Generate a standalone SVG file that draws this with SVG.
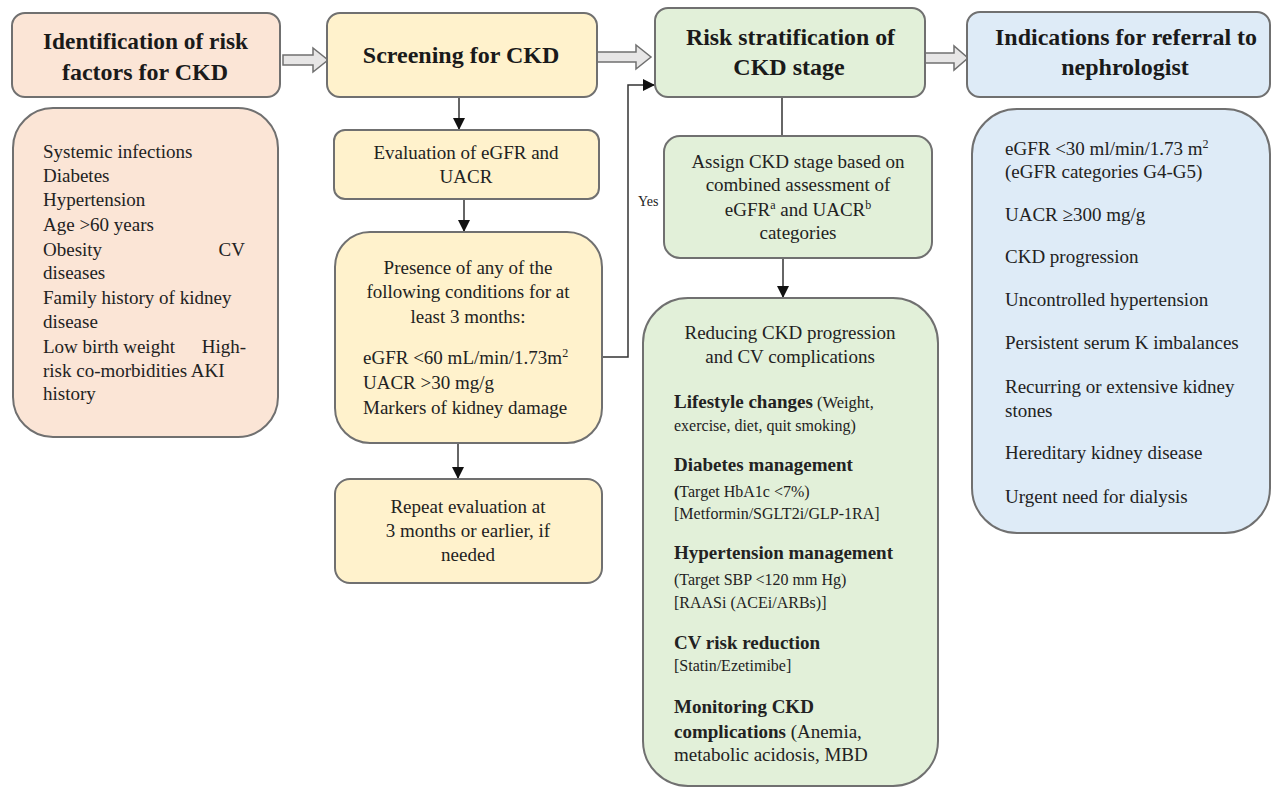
<svg xmlns="http://www.w3.org/2000/svg" width="1273" height="788" viewBox="0 0 1273 788">
<style>
.box{stroke:#707070;stroke-width:2}
.peach{fill:#FBE5D6}
.yellow{fill:#FFF2CC}
.green{fill:#E2F0D9}
.blue{fill:#DEEBF7}
text{font-family:"Liberation Serif","Times New Roman",serif;fill:#222}
.h{font-size:24px;font-weight:bold;text-anchor:middle;fill:#1a1a1a}
.t{font-size:19px}
.c{text-anchor:middle}
.e{text-anchor:end}
.s{font-size:16px}
.b{font-weight:bold}
.conn{stroke:#333;stroke-width:1.5;fill:none}
.hollow{fill:#E7E6E6;stroke:#707070;stroke-width:1.5}
</style>
<defs>
<marker id="ah" viewBox="0 0 10 10" refX="10" refY="5" markerWidth="12" markerHeight="12" markerUnits="userSpaceOnUse" orient="auto">
<path d="M0,0 L10,5 L0,10 z" fill="#111"/>
</marker>
</defs>

<g id="connectors">
<polygon class="hollow" points="283,55 313,55 313,48 328,60 313,72 313,65 283,65"/>
<polygon class="hollow" points="597,52 636,52 636,45 651,57 636,69 636,62 597,62"/>
<polygon class="hollow" points="925,53 954,53 954,46 968,58 954,70 954,63 925,63"/>
<line class="conn" x1="459" y1="97" x2="459" y2="130" marker-end="url(#ah)"/>
<line class="conn" x1="464" y1="199" x2="464" y2="232" marker-end="url(#ah)"/>
<line class="conn" x1="458" y1="443" x2="458" y2="479" marker-end="url(#ah)"/>
<path class="conn" d="M602,357 H628 V85 H655" marker-end="url(#ah)"/>
<line class="conn" x1="782" y1="97" x2="782" y2="136"/>
<line class="conn" x1="783" y1="258" x2="783" y2="298" marker-end="url(#ah)"/>
<text x="638" y="206" style="font-size:14px">Yes</text>
</g>

<g id="identification">
<rect class="box peach" x="12" y="13" width="268" height="84" rx="13"/>
<text class="h" x="145.5" y="49" textLength="205" lengthAdjust="spacingAndGlyphs">Identification  of risk</text>
<text class="h" x="145" y="80">factors for CKD</text>
</g>

<g id="risk-factors">
<rect class="box peach" x="13" y="108" width="265" height="329" rx="40"/>
<text class="t" x="43" y="158">Systemic infections</text>
<text class="t" x="43" y="182">Diabetes</text>
<text class="t" x="43" y="206">Hypertension</text>
<text class="t" x="43" y="231">Age &gt;60 years</text>
<text class="t" x="43" y="256">Obesity</text>
<text class="t e" x="245" y="256">CV</text>
<text class="t" x="43" y="279">diseases</text>
<text class="t" x="43" y="304">Family history of kidney</text>
<text class="t" x="43" y="328">disease</text>
<text class="t" x="43" y="353">Low birth weight</text>
<text class="t e" x="246" y="353">High-</text>
<text class="t" x="43" y="377">risk co-morbidities AKI</text>
<text class="t" x="43" y="400">history</text>
</g>

<g id="screening">
<rect class="box yellow" x="327" y="13" width="270" height="84" rx="13"/>
<text class="h" x="461" y="63">Screening for CKD</text>
</g>

<g id="evaluation">
<rect class="box yellow" x="334" y="130" width="265" height="69" rx="11"/>
<text class="t c" x="466" y="159">Evaluation of eGFR and</text>
<text class="t c" x="466" y="183">UACR</text>
</g>

<g id="presence">
<rect class="box yellow" x="335" y="232" width="267" height="211" rx="35"/>
<text class="t c" x="468" y="274">Presence of any of the</text>
<text class="t c" x="468" y="298">following conditions for at</text>
<text class="t c" x="468" y="323">least 3 months:</text>
<text class="t" x="363" y="364">eGFR &lt;60 mL/min/1.73m<tspan dy="-7" style="font-size:12px">2</tspan></text>
<text class="t" x="363" y="389">UACR &gt;30 mg/g</text>
<text class="t" x="363" y="414">Markers of kidney damage</text>
</g>

<g id="repeat">
<rect class="box yellow" x="335" y="479" width="267" height="104" rx="15"/>
<text class="t c" x="468" y="513">Repeat evaluation at</text>
<text class="t c" x="468" y="537">3 months or earlier, if</text>
<text class="t c" x="468" y="561">needed</text>
</g>

<g id="risk-stratification">
<rect class="box green" x="655" y="8" width="270" height="89" rx="13"/>
<text class="h" x="790.5" y="45" textLength="209" lengthAdjust="spacingAndGlyphs">Risk stratification  of</text>
<text class="h" x="789" y="75">CKD stage</text>
</g>

<g id="assign">
<rect class="box green" x="664" y="136" width="268" height="122" rx="16"/>
<text class="t c" x="798" y="168">Assign CKD stage based on</text>
<text class="t c" x="798" y="191">combined assessment of</text>
<text class="t c" x="798" y="216">eGFR<tspan dy="-7" style="font-size:12px">a</tspan><tspan dy="7"> and UACR</tspan><tspan dy="-7" style="font-size:12px">b</tspan></text>
<text class="t c" x="798" y="239">categories</text>
</g>

<g id="reducing">
<rect class="box green" x="643" y="298" width="295" height="488" rx="45"/>
<text class="t c" x="790" y="339">Reducing CKD progression</text>
<text class="t c" x="790" y="363">and CV complications</text>
<text class="t" x="674" y="408"><tspan class="b">Lifestyle changes</tspan><tspan style="font-size:16.5px"> (Weight,</tspan></text>
<text class="s" x="674" y="431">exercise, diet,  quit  smoking)</text>
<text class="t b" x="674" y="471">Diabetes management</text>
<text class="s" x="674" y="497"><tspan class="b">(</tspan>Target HbA1c &lt;7%)</text>
<text class="s" x="674" y="519">[Metformin/SGLT2i/GLP-1RA]</text>
<text class="t b" x="674" y="559">Hypertension management</text>
<text class="s" x="674" y="585">(Target SBP &lt;120 mm Hg)</text>
<text class="s" x="674" y="608">[RAASi (ACEi/ARBs)]</text>
<text class="t b" x="674" y="649">CV  risk reduction</text>
<text class="s" x="674" y="671">[Statin/Ezetimibe]</text>
<text class="t b" x="674" y="713">Monitoring CKD</text>
<text class="t" x="674" y="738"><tspan class="b">complications</tspan> (Anemia,</text>
<text class="t" x="674" y="761">metabolic acidosis, MBD</text>
</g>

<g id="referral">
<rect class="box blue" x="967" y="12" width="303" height="85" rx="13"/>
<text class="h" x="1126" y="45" textLength="262" lengthAdjust="spacingAndGlyphs">Indications  for  referral  to</text>
<text class="h" x="1125" y="75">nephrologist</text>
</g>

<g id="referral-criteria">
<rect class="box blue" x="972" y="109" width="298" height="424" rx="45"/>
<text class="t" x="1005" y="155">eGFR &lt;30 ml/min/1.73 m<tspan dy="-7" style="font-size:12px">2</tspan></text>
<text class="t" x="1005" y="178">(eGFR categories G4-G5)</text>
<text class="t" x="1005" y="221">UACR ≥300 mg/g</text>
<text class="t" x="1005" y="263">CKD progression</text>
<text class="t" x="1005" y="306">Uncontrolled hypertension</text>
<text class="t" x="1005" y="349">Persistent serum K imbalances</text>
<text class="t" x="1005" y="393">Recurring or extensive kidney</text>
<text class="t" x="1005" y="417">stones</text>
<text class="t" x="1005" y="459">Hereditary kidney disease</text>
<text class="t" x="1005" y="503">Urgent need for dialysis</text>
</g>
</svg>
